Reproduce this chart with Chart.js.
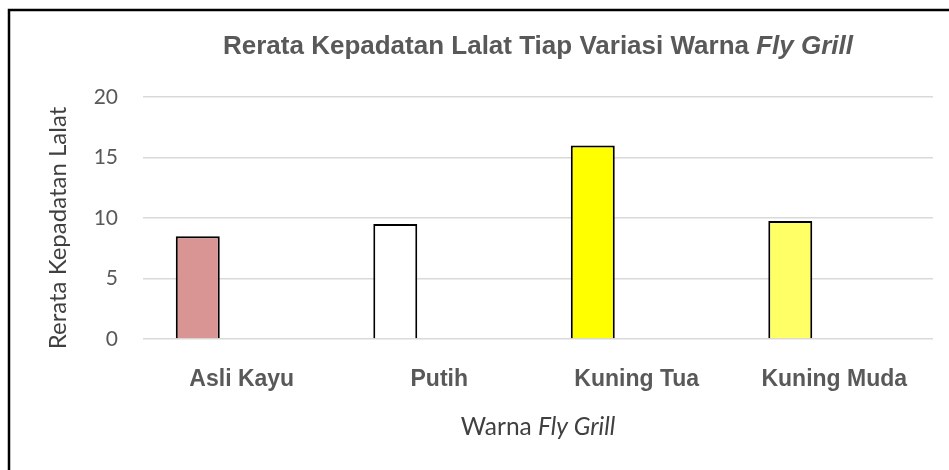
<!DOCTYPE html>
<html>
<head>
<meta charset="utf-8">
<script src="https://cdn.jsdelivr.net/npm/chart.js@4.4.0/dist/chart.umd.min.js"></script>
<style>
  html, body { margin: 0; padding: 0; background: #fff; }
  #wrap { width: 949px; height: 470px; position: relative; }
</style>
</head>
<body>
<div id="wrap"><canvas id="chart"></canvas></div>
<script>
/* ── data ── */
const categories = ['Asli Kayu', 'Putih', 'Kuning Tua', 'Kuning Muda'];
const rerata     = [8.5, 9.5, 16, 9.75];
const barColors  = ['#d99594', '#ffffff', '#ffff00', '#ffff66'];
const yTicks     = [0, 5, 10, 15, 20];

const titleParts  = [['Rerata Kepadatan Lalat Tiap Variasi Warna ', false], ['Fly Grill', true]];
const xTitleParts = [['Warna ', false], ['Fly Grill', true]];
const yTitle      = 'Rerata Kepadatan Lalat';

/* draw a line of text with mixed upright / italic parts, centred on cx */
function drawParts(ctx, parts, cx, y, size, weight, family, color) {
  const font = it => `${it ? 'italic ' : ''}${weight} ${size}px ${family}`;
  let total = 0;
  parts.forEach(([t, it]) => { ctx.font = font(it); total += ctx.measureText(t).width; });
  let x = cx - total / 2;
  ctx.fillStyle = color;
  ctx.textAlign = 'left';
  ctx.textBaseline = 'alphabetic';
  parts.forEach(([t, it]) => {
    ctx.font = font(it);
    ctx.fillText(t, x, y);
    x += ctx.measureText(t).width;
  });
}

const decor = {
  id: 'decor',
  afterDraw(chart) {
    const { ctx, chartArea } = chart;
    const cx = (chartArea.left + chartArea.right) / 2;
    ctx.save();
    // frame (only top and left edges fall inside the window)
    ctx.strokeStyle = '#000';
    ctx.lineWidth = 2.5;
    ctx.beginPath();
    ctx.moveTo(9, 470);
    ctx.lineTo(9, 10);
    ctx.lineTo(949, 10);
    ctx.stroke();

    drawParts(ctx, titleParts, cx, 54, 26, 'bold', '"Liberation Sans", Arial, sans-serif', '#595959');
    drawParts(ctx, xTitleParts, cx, 435, 24.5, 'normal', 'Lato, sans-serif', '#404040');

    // y axis title, rotated
    ctx.translate(58, 228);
    ctx.rotate(-Math.PI / 2);
    ctx.font = '24px Lato, sans-serif';
    ctx.fillStyle = '#404040';
    ctx.textAlign = 'center';
    ctx.textBaseline = 'middle';
    ctx.fillText(yTitle, 0, 0);
    ctx.restore();
  }
};

new Chart(document.getElementById('chart'), {
  type: 'bar',
  data: {
    labels: categories,
    datasets: [
      {
        label: 'Rerata',
        data: rerata,
        backgroundColor: barColors,
        borderColor: '#000',
        borderWidth: 2,
      },
      // two empty series keep the spreadsheet's cluster slots
      { label: '', data: [] },
      { label: '', data: [] },
    ],
  },
  options: {
    responsive: true,
    maintainAspectRatio: false,
    animation: false,
    categoryPercentage: 0.668,
    barPercentage: 1,
    layout: { padding: { left: 36, top: 97, right: 16, bottom: 0 } },
    plugins: {
      legend: { display: false },
      title: { display: false },
      tooltip: { enabled: false },
    },
    scales: {
      x: {
        grid: { display: false },
        border: { display: false },
        ticks: {
          color: '#595959',
          padding: 19,
          font: { family: '"Liberation Sans", Arial, sans-serif', size: 23, weight: 'bold' },
        },
        afterFit: s => { s.height = 131; },
      },
      y: {
        min: 0,
        max: 20,
        afterBuildTicks: s => { s.ticks = yTicks.map(v => ({ value: v })); },
        grid: { color: '#d9d9d9', lineWidth: 1.5, drawTicks: false },
        border: { display: false },
        ticks: {
          color: '#595959',
          padding: 25,
          font: { family: 'Lato, sans-serif', size: 21 },
        },
        title: { display: false },
        afterFit: s => { s.width = 107; },
      },
    },
  },
  plugins: [decor],
});
</script>
</body>
</html>
